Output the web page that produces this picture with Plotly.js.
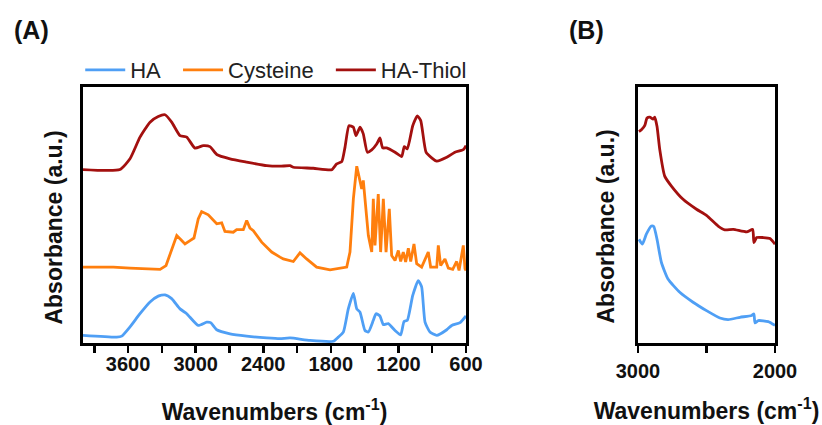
<!DOCTYPE html>
<html>
<head>
<meta charset="utf-8">
<script src="https://cdn.plot.ly/plotly-3.0.1.min.js"></script>
<style>
html,body{margin:0;padding:0;background:#fff;}
#chart{width:822px;height:425px;}
</style>
</head>
<body>
<div id="chart"></div>
<script>
// ---- Panel A data (wavenumber cm-1, absorbance a.u., offset stacked) ----
const haWn = [4000,3701,3656,3583,3494,3405,3332,3272,3213,3139,3079,2977,2902,2867,2813,2695,2547,2369,2251,2162,1985,1778,1734,1689,1645,1600,1570,1541,1497,1467,1423,1399,1364,1334,1290,1230,1180,1150,1121,1073,1024,994,964,920,860,771,727,653,600];
const haAbs = [0.025,0.018,0.022,0.058,0.110,0.156,0.179,0.184,0.169,0.129,0.110,0.064,0.077,0.075,0.047,0.031,0.022,0.015,0.012,0.015,0.005,0.002,0.018,0.038,0.129,0.190,0.129,0.116,0.044,0.038,0.084,0.110,0.101,0.067,0.071,0.044,0.027,0.080,0.084,0.182,0.240,0.215,0.077,0.038,0.025,0.047,0.064,0.075,0.101];

const cysWn = [4000,3731,3583,3316,3263,3213,3168,3124,3095,3050,3015,2977,2947,2888,2813,2769,2740,2666,2636,2577,2547,2518,2488,2414,2325,2251,2222,2133,2074,2015,1926,1807,1659,1630,1600,1570,1541,1526,1512,1467,1437,1423,1408,1379,1358,1334,1310,1281,1260,1230,1201,1180,1157,1136,1112,1091,1062,1038,994,935,914,860,846,825,787,757,718,683,662,624,609,600];
const cysAbs = [0.293,0.293,0.289,0.284,0.299,0.365,0.417,0.397,0.384,0.397,0.407,0.482,0.511,0.498,0.463,0.467,0.433,0.430,0.440,0.440,0.476,0.446,0.436,0.391,0.352,0.332,0.325,0.315,0.349,0.325,0.293,0.282,0.293,0.352,0.561,0.689,0.633,0.600,0.633,0.417,0.352,0.561,0.378,0.580,0.352,0.561,0.352,0.522,0.338,0.319,0.358,0.315,0.352,0.313,0.367,0.315,0.384,0.306,0.293,0.352,0.293,0.293,0.378,0.299,0.325,0.289,0.284,0.315,0.280,0.378,0.286,0.280];

const thiolWn = [4000,3672,3583,3494,3405,3332,3272,3213,3139,3079,3006,2932,2873,2813,2695,2547,2369,2251,2162,2133,1956,1792,1748,1703,1674,1639,1600,1577,1541,1512,1476,1437,1393,1364,1340,1304,1230,1171,1148,1121,1073,1032,1002,955,905,860,771,698,624,600];
const thiolAbs = [0.676,0.676,0.718,0.803,0.862,0.884,0.891,0.862,0.809,0.803,0.760,0.770,0.766,0.735,0.718,0.705,0.691,0.689,0.691,0.685,0.681,0.675,0.698,0.707,0.764,0.848,0.842,0.809,0.842,0.816,0.744,0.753,0.776,0.800,0.761,0.761,0.744,0.727,0.766,0.757,0.848,0.887,0.868,0.744,0.722,0.709,0.724,0.744,0.754,0.770];

// ---- Panel B data (3000-2000 cm-1 zoom) ----
const bThiolWn = [2993,2975,2951,2934,2914,2890,2878,2861,2841,2805,2756,2671,2573,2500,2415,2366,2305,2207,2163,2154,2134,2086,2037,2000];
const bThiolAbs = [0.825,0.832,0.848,0.878,0.882,0.874,0.882,0.845,0.754,0.650,0.611,0.559,0.520,0.496,0.454,0.439,0.441,0.431,0.441,0.389,0.409,0.409,0.405,0.383];
const bHaWn = [2993,2968,2939,2902,2885,2861,2829,2781,2695,2598,2500,2402,2342,2256,2171,2154,2146,2122,2049,2000];
const bHaAbs = [0.402,0.383,0.422,0.454,0.452,0.402,0.311,0.246,0.194,0.155,0.122,0.093,0.087,0.096,0.103,0.109,0.074,0.083,0.079,0.064];

const seriesNames = ["HA","Cysteine","HA-Thiol"];
const colors = {HA:"#4f9ff5", Cysteine:"#ff7f0e", "HA-Thiol":"#a3100f"};

const majorTicksA = [3600,3000,2400,1800,1200,600];
const minorTicksA = [3900,3300,2700,2100,1500,900];
const majorTicksB = [3000,2000];
const minorTicksB = [2500];

const FONT = "Liberation Sans, Arial, Helvetica, sans-serif";
const lw = 2.8;
const smoothLine = (c) => ({color:c, width:lw, shape:"spline", smoothing:0.5});
const pad = "\u00a0\u00a0";

const traces = [
  {x: haWn, y: haAbs, name: seriesNames[0] + pad, type:"scatter", mode:"lines", line:smoothLine(colors.HA), xaxis:"x", yaxis:"y"},
  {x: cysWn, y: cysAbs, name: seriesNames[1] + pad, type:"scatter", mode:"lines", line:{color:colors.Cysteine, width:lw}, xaxis:"x", yaxis:"y"},
  {x: thiolWn, y: thiolAbs, name: seriesNames[2], type:"scatter", mode:"lines", line:smoothLine(colors["HA-Thiol"]), xaxis:"x", yaxis:"y"},
  {x: bHaWn, y: bHaAbs, name: "HA", type:"scatter", mode:"lines", line:smoothLine(colors.HA), xaxis:"x2", yaxis:"y2", showlegend:false},
  {x: bThiolWn, y: bThiolAbs, name: "HA-Thiol", type:"scatter", mode:"lines", line:smoothLine(colors["HA-Thiol"]), xaxis:"x2", yaxis:"y2", showlegend:false}
];

const axisCommon = {
  showline:true, mirror:true, linecolor:"#000", linewidth:3, showgrid:false, zeroline:false
};
const xCommon = Object.assign({}, axisCommon, {
  ticks:"outside", ticklen:7, tickwidth:2.5, tickcolor:"#000",
  tickfont:{family:FONT, size:20, color:"#111", weight:"bold"},
  tickmode:"array"
});
const minorCommon = {ticks:"outside", ticklen:7, tickwidth:2.5, tickcolor:"#000", showgrid:false, tickmode:"array"};
const yCommon = Object.assign({}, axisCommon, {
  ticks:"", showticklabels:false, range:[-0.005,1.0]
});
const titleFont = {family:FONT, size:23, color:"#111", weight:"bold"};
const xTitleText = "Wavenumbers (cm<sup>-1</sup>)";
const yTitleText = "Absorbance (a.u.)";

const layout = {
  width:822, height:425,
  margin:{l:83, r:47, t:87, b:82},
  paper_bgcolor:"#fff", plot_bgcolor:"#fff",
  font:{family:FONT, color:"#111"},
  showlegend:true,
  legend:{orientation:"h", x:-0.004, y:1.066, xanchor:"left", yanchor:"middle",
          font:{family:FONT, size:22, color:"#222"}, itemwidth:40, bgcolor:"rgba(0,0,0,0)"},
  xaxis: Object.assign({}, xCommon, {domain:[0,0.5535], range:[4000,600], tickvals:majorTicksA, ticktext:majorTicksA.map(String),
          minor:Object.assign({}, minorCommon, {tickvals:minorTicksA}),
          ticklabelstandoff:-6, title:{text:xTitleText, font:titleFont, standoff:30}, anchor:"y"}),
  yaxis: Object.assign({}, yCommon, {domain:[0,1], anchor:"x"}),
  xaxis2: Object.assign({}, xCommon, {domain:[0.802,1], range:[3000,2000], tickvals:majorTicksB, ticktext:majorTicksB.map(String),
          minor:Object.assign({}, minorCommon, {tickvals:minorTicksB}),
          ticklabelstandoff:1, title:{text:xTitleText, font:titleFont, standoff:22}, anchor:"y2"}),
  yaxis2: Object.assign({}, yCommon, {domain:[0,1], anchor:"x2"}),
  annotations:[
    {text:"(A)", xref:"paper", yref:"paper", x:-0.1026, y:1.2227, xanchor:"left", yanchor:"middle", showarrow:false, font:{family:FONT, size:25, color:"#111", weight:"bold"}},
    {text:"(B)", xref:"paper", yref:"paper", x:0.699, y:1.2227, xanchor:"left", yanchor:"middle", showarrow:false, font:{family:FONT, size:25, color:"#111", weight:"bold"}},
    {text:yTitleText, xref:"paper", yref:"paper", x:-0.0419, y:0.451, xanchor:"center", yanchor:"middle", textangle:-90, showarrow:false, font:titleFont},
    {text:yTitleText, xref:"paper", yref:"paper", x:0.7558, y:0.455, xanchor:"center", yanchor:"middle", textangle:-90, showarrow:false, font:titleFont}
  ]
};

Plotly.newPlot("chart", traces, layout, {displayModeBar:false, staticPlot:true});
</script>
</body>
</html>
